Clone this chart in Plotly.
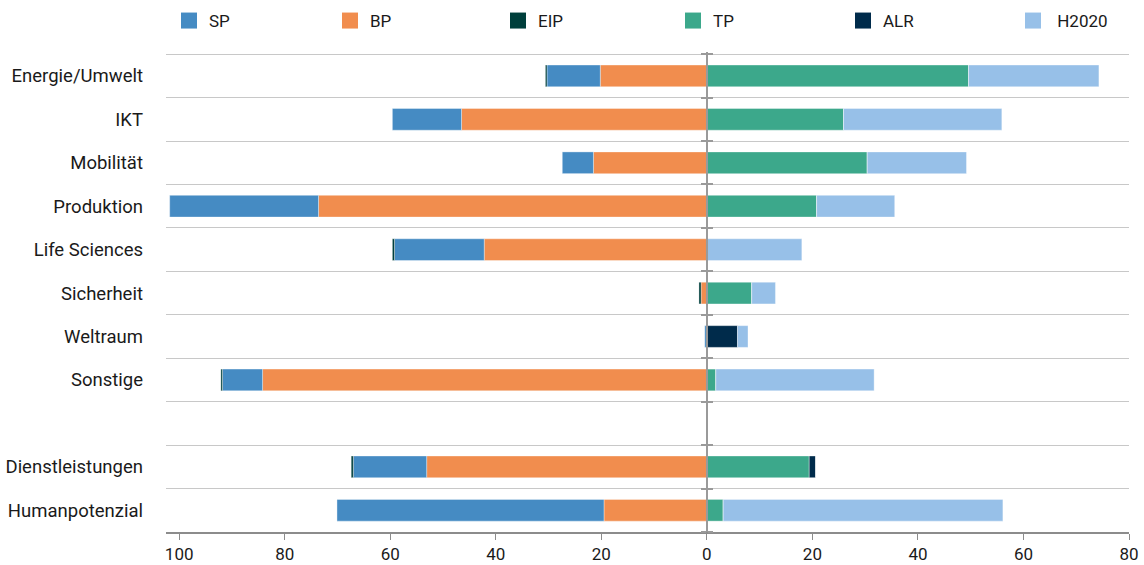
import plotly.graph_objects as go

categories = ["Energie/Umwelt", "IKT", "Mobilität", "Produktion", "Life Sciences",
              "Sicherheit", "Weltraum", "Sonstige", " ", "Dienstleistungen", "Humanpotenzial"]

# left side (shown as negative)
SP = [10.1, 13.1, 5.9, 28.2, 17.0, 0.0, 0.4, 7.6, None, 13.9, 50.6]
BP = [20.2, 46.5, 21.5, 73.6, 42.2, 1.1, 0.0, 84.2, None, 53.1, 19.5]
EIP = [0.3, 0.0, 0.0, 0.0, 0.4, 0.4, 0.0, 0.3, None, 0.4, 0.0]
# right side
TP = [49.6, 25.9, 30.4, 20.8, 0.0, 8.5, 0.0, 1.7, None, 19.4, 3.1]
ALR = [0.0, 0.0, 0.0, 0.0, 0.0, 0.0, 5.8, 0.0, None, 1.2, 0.0]
H2020 = [24.7, 30.0, 18.8, 14.8, 18.0, 4.5, 2.0, 30.0, None, 0.0, 53.0]

tick_vals = [-100, -80, -60, -40, -20, 0, 20, 40, 60, 80]
tick_text = [str(abs(v)) for v in tick_vals]

series_names = ["SP", "BP", "EIP", "TP", "ALR", "H2020"]
legend_labels = ["SP", "BP", "EIP", "TP", "ALR", "\u00a0H2020"]

colors = {"SP": "#458bc3", "BP": "#f18d4e", "EIP": "#003f3c",
          "TP": "#3ca88b", "ALR": "#002b4b", "H2020": "#97c0e8"}

XMIN, XMAX = -102.5, 80
FONT = "Roboto"
W, H = 1144, 565
ML, MR, MT, MB = 166, 15, 52, 33
PW = W - ML - MR

fig = go.Figure()

def neg(vals):
    return [None if v is None else -v for v in vals]

series = [("BP", neg(BP)), ("SP", neg(SP)), ("EIP", neg(EIP)),
          ("TP", TP), ("ALR", ALR), ("H2020", H2020)]
for name, vals in series:
    fig.add_trace(go.Bar(
        y=categories, x=vals, orientation="h", name=name,
        marker=dict(color=colors[name], line=dict(width=0.6, color="rgba(255,255,255,0.6)")),
        width=0.5, showlegend=False, hoverinfo="skip"))

# legend entries, each in its own legend so spacing matches
legend_px = [169, 330, 498, 673, 843, 1013]
layout_legends = {}
for i, (name, label) in enumerate(zip(series_names, legend_labels)):
    key = "legend" if i == 0 else f"legend{i + 1}"
    fig.add_trace(go.Scatter(
        x=[None], y=[None], mode="markers", name=label, legend=key,
        marker=dict(symbol="square", size=17, color=colors[name]),
        showlegend=True, hoverinfo="skip"))
    layout_legends[key] = dict(
        orientation="h", xref="container", x=legend_px[i] / W, xanchor="left",
        yref="container", y=1 - 3 / H, yanchor="top",
        font=dict(size=17, color="#1a1a1a"),
        itemsizing="trace", bgcolor="rgba(0,0,0,0)")

# dummy traces to carry the helper axes at x=0
n = len(categories)
fig.add_trace(go.Scatter(x=[0], y=[0], yaxis="y2", mode="markers",
                         marker=dict(opacity=0), showlegend=False, hoverinfo="skip"))
fig.add_trace(go.Scatter(x=[0], y=[0], yaxis="y3", mode="markers",
                         marker=dict(opacity=0), showlegend=False, hoverinfo="skip"))

zero_pos = (0 - XMIN) / (XMAX - XMIN)
YR = [n - 0.5, -0.55]

fig.update_layout(
    width=W, height=H,
    margin=dict(l=ML, r=MR, t=MT, b=MB, autoexpand=False),
    paper_bgcolor="white", plot_bgcolor="white",
    barmode="relative",
    font=dict(family=FONT, size=16, color="#1a1a1a"),
    xaxis=dict(range=[XMIN, XMAX], tickvals=tick_vals, ticktext=tick_text,
               showgrid=False, zeroline=False, showline=True, linecolor="#8c8c8c",
               linewidth=1.5, ticks="outside", ticklen=6, tickcolor="#8c8c8c",
               automargin=False, tickfont=dict(size=17, color="#1a1a1a")),
    yaxis=dict(type="category", categoryorder="array", categoryarray=categories,
               range=YR, showgrid=False, zeroline=False, automargin=False,
               ticks="", ticklabelstandoff=22, tickfont=dict(size=18.5, color="#1a1a1a")),
    yaxis2=dict(overlaying="y", anchor="free", position=zero_pos, side="left",
                range=YR, tick0=-0.5, dtick=1, automargin=False,
                showgrid=True, gridcolor="#c8c8c8", gridwidth=1.2,
                showticklabels=False, zeroline=False,
                showline=True, linecolor="#9a9a9a", linewidth=2.2,
                ticks="outside", ticklen=5, tickwidth=2, tickcolor="#9a9a9a"),
    yaxis3=dict(overlaying="y", anchor="free", position=zero_pos, side="right",
                range=YR, tick0=-0.5, dtick=1, automargin=False,
                showgrid=False, showticklabels=False, zeroline=False, showline=False,
                ticks="outside", ticklen=5, tickwidth=2, tickcolor="#9a9a9a"),
    **layout_legends,
)

fig.write_html("out.html", config={"displayModeBar": False},
               post_script="document.body.style.margin='0';")
